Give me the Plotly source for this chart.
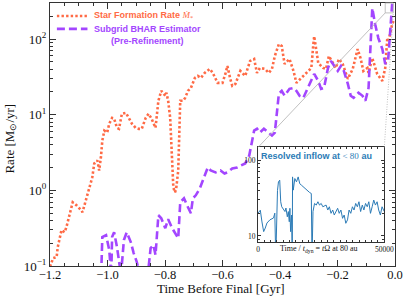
import numpy as np
import plotly.graph_objects as go

# ---------------- data ----------------
sfr_t = [-1.200, -1.189, -1.177, -1.173, -1.160, -1.149, -1.143, -1.131, -1.121, -1.108,
         -1.097, -1.091, -1.087, -1.074, -1.063, -1.053, -1.046, -1.035, -1.029, -1.023,
         -1.018, -1.011, -1.001, -0.994, -0.984, -0.977, -0.967, -0.960, -0.950, -0.936,
         -0.926, -0.915, -0.902, -0.891, -0.881, -0.867, -0.857, -0.847, -0.833, -0.823,
         -0.813, -0.799, -0.795, -0.789, -0.782, -0.778, -0.771, -0.765, -0.761, -0.754,
         -0.751, -0.747, -0.737, -0.730, -0.720, -0.710, -0.696, -0.686, -0.675, -0.662,
         -0.644, -0.634, -0.617, -0.600, -0.590, -0.583, -0.573, -0.566, -0.555, -0.538,
         -0.521, -0.504, -0.490, -0.480, -0.470, -0.452, -0.439, -0.428, -0.418, -0.404,
         -0.394, -0.384, -0.367, -0.353, -0.343, -0.319, -0.302, -0.291, -0.284, -0.281,
         -0.267, -0.250, -0.240, -0.230, -0.216, -0.206, -0.195, -0.182, -0.164, -0.147,
         -0.130, -0.120, -0.110, -0.096, -0.092, -0.079, -0.062, -0.051, -0.044, -0.034,
         -0.027, -0.024, -0.017, -0.010, -0.003]
sfr_rate = [0.098, 0.127, 0.131, 0.178, 0.298, 0.28, 0.326, 0.50, 0.695, 0.635,
            0.58, 0.545, 0.514, 0.785, 1.09, 1.48, 2.27, 2.48, 1.83, 2.72,
            4.55, 6.16, 5.8, 7.6, 9.1, 8.9, 6.7, 6.5, 10.3, 10.6,
            9.1, 7.6, 6.7, 6.5, 6.5, 9.1, 10.3, 8.9, 6.7, 15.3,
            20.7, 17.8, 19.5, 15.3, 9.1, 3.36, 1.09, 0.94, 1.06, 1.83,
            4.55, 15.3, 15.3, 16.7, 20.7, 22.6, 30.7, 32.6, 30.7, 35.7,
            40.3, 35.7, 26.4, 26.4, 34.6, 44.2, 29.8, 24.1, 25.6, 37.9,
            32.6, 51.4, 54.6, 35.7, 41.5, 40.3, 35.7, 40.3, 59.7, 85.9,
            80.9, 46.9, 54.6, 37.9, 26.4, 32.6, 37.9, 41.5, 85.9, 109,
            48.3, 41.5, 40.3, 59.7, 48.3, 41.5, 54.6, 46.9, 29.8, 40.3,
            73.9, 56.2, 37.9, 41.5, 35.7, 56.2, 34.6, 29.8, 28.0, 41.5,
            100, 94, 116, 157, 183]

bhar_t = [-1.022, -1.018, -1.005, -0.994, -0.987, -0.984, -0.977, -0.967, -0.953, -0.943,
          -0.933, -0.919, -0.909, -0.898, -0.888, -0.871, -0.857, -0.850, -0.840, -0.833,
          -0.823, -0.813, -0.799, -0.789, -0.775, -0.754, -0.747, -0.734, -0.720, -0.710,
          -0.703, -0.693, -0.679, -0.669, -0.651, -0.641, -0.624, -0.607, -0.593, -0.583,
          -0.566, -0.549, -0.521, -0.507, -0.497, -0.490, -0.480, -0.470, -0.456, -0.439,
          -0.428, -0.418, -0.404, -0.394, -0.384, -0.367, -0.353, -0.343, -0.332, -0.319,
          -0.308, -0.291, -0.281, -0.267, -0.257, -0.247, -0.233, -0.223, -0.212, -0.199,
          -0.188, -0.178, -0.164, -0.154, -0.144, -0.127, -0.113, -0.103, -0.092, -0.085,
          -0.079, -0.069, -0.058, -0.044, -0.034, -0.024, -0.017, -0.010, -0.003]
bhar_rate = [0.076, 0.241, 0.256, 0.163, 0.076, 0.241, 0.28, 0.178, 0.076, 0.22,
             0.28, 0.207, 0.148, 0.113, 0.076, 0.056, 0.097, 0.172, 0.189, 0.14,
             0.469, 0.428, 0.316, 0.415, 0.316, 0.233, 0.695, 0.785, 0.597, 0.498,
             0.785, 0.86, 1.06, 1.35, 2.01, 1.83, 1.73, 1.83, 1.67, 1.73,
             1.95, 2.01, 2.27, 2.89, 4.55, 6.16, 6.54, 5.8, 6.54, 5.8,
             5.3, 5.8, 18.9, 20.7, 17.8, 22.0, 22.6, 20.7, 17.8, 16.7,
             20.7, 28.0, 34.6, 28.0, 22.0, 22.6, 41.5, 51.4, 44.2, 37.9,
             44.2, 37.9, 25.6, 17.8, 16.7, 19.5, 17.8, 15.3, 22.6, 94,
             256, 157, 103, 73.9, 46.9, 51.4, 140, 289, 370]

inflow_time = [0, 900, 1560, 2230, 2850, 3520, 4690, 6130, 6640, 7030,
               7700, 8090, 8590, 8980, 9380, 10040, 10660, 11050, 11600, 11990,
               12380, 12620, 12890, 13280, 13550, 13670, 13950, 14570, 15230, 15900,
               16520, 17190, 17850, 18480, 19140, 19800, 20430, 21090, 21370, 21760,
               22380, 23050, 23710, 24340, 25000, 25660, 26950, 27620, 28240, 28910,
               29570, 30190, 30860, 31520, 32150, 32810, 33470, 34100, 34760, 35430,
               36050, 36720, 37380, 38010, 38670, 39330, 39960, 40620, 41290, 41910,
               42580, 43240, 43870, 44530, 45190, 45820, 46480, 47150, 47770, 48440,
               49100, 49720, 50000]
inflow_rate = [20, 21.9, 15.3, 11.4, 12.7, 14.8, 16.3, 17.3, 20, 5,
               40, 51.8, 54.6, 28.3, 24.3, 22, 21, 23.4, 17.9, 21,
               15.4, 23.2, 11.4, 18.9, 5, 60.3, 40.3, 57.4, 51.8, 60.3,
               49, 46.9, 44.5, 42.4, 40.3, 38.2, 37.5, 36.4, 5, 21,
               26.9, 25.6, 28.3, 25.6, 26.9, 24.3, 25.6, 22, 24.3, 19.9,
               22, 18.9, 21, 23.2, 19.9, 22, 17.1, 18.9, 14.7, 16.3,
               22, 19.9, 24.3, 22, 26.9, 24.3, 28.3, 21, 25.6, 22,
               26.9, 24.3, 28.3, 19.9, 24.3, 29.8, 25.6, 28.3, 22, 18.9,
               24.3, 22, 21]

main_xticks = [-1.2, -1.0, -0.8, -0.6, -0.4, -0.2, 0.0]
main_xticklabels = ["\u22121.2", "\u22121.0", "\u22120.8", "\u22120.6", "\u22120.4", "\u22120.2", "0.0"]
main_yticks = [0.1, 1, 10, 100]
main_yticklabels = ["10<sup>\u22121</sup>", "10<sup>0</sup>", "10<sup>1</sup>", "10<sup>2</sup>"]
inset_xticks = [0, 50000]
inset_xticklabels = ["0", "50000"]
inset_yticks = [10, 100]
inset_yticklabels = ["10", "100"]

# ---------------- layout constants ----------------
W, H = 407, 300
ML, MR, MT, MB = 50, 7, 2, 34
XR = [-1.2, 0.0]
YR = [-1.0, np.log10(300)]
INSET_X = [0.603, 0.969]
INSET_Y = [0.091, 0.451]
INSET_YR = [np.log10(8.3), np.log10(148)]
ZOOM_T = [-0.034, -0.006]
ZOOM_R = [222, 300]

SFR_C = "#ff6a45"
BH_C = "#a346ff"
IN_C = "#2c7bb6"
SERIF = "Liberation Serif"
SANS = "Liberation Sans"

pw = W - ML - MR
ph = H - MT - MB


def fx(t):
    return (t - XR[0]) / (XR[1] - XR[0])


def fy(v):
    return (np.log10(v) - YR[0]) / (YR[1] - YR[0])


def pxp(px):
    return (px - ML) / pw


def pyp(py):
    return (H - MB - py) / ph


fig = go.Figure()
fig.add_trace(go.Scatter(x=sfr_t, y=sfr_rate, mode="lines",
                         line=dict(color=SFR_C, width=2.6, dash="2.4px,2.2px"),
                         xaxis="x", yaxis="y", showlegend=False))
fig.add_trace(go.Scatter(x=bhar_t, y=bhar_rate, mode="lines",
                         line=dict(color=BH_C, width=2.6, dash="8px,4px"),
                         xaxis="x", yaxis="y", showlegend=False))
fig.add_trace(go.Scatter(x=inflow_time, y=inflow_rate, mode="lines",
                         line=dict(color=IN_C, width=1),
                         xaxis="x2", yaxis="y2", showlegend=False))

axcommon = dict(showgrid=False, zeroline=False, showline=True, linecolor="#333",
                linewidth=1, ticks="inside", mirror="ticks", tickcolor="#333")

fig.update_layout(
    width=W, height=H,
    margin=dict(l=ML, r=MR, t=MT, b=MB),
    paper_bgcolor="white", plot_bgcolor="white",
    xaxis=dict(domain=[0, 1], range=XR, tickvals=main_xticks, ticktext=main_xticklabels,
               ticklen=6, tickwidth=1, tickfont=dict(family=SERIF, size=12.5, color="#111"),
               minor=dict(dtick=0.05, tick0=0, ticks="inside", ticklen=3, tickcolor="#333"),
               anchor="y", ticklabelstandoff=-3, **axcommon),
    yaxis=dict(domain=[0, 1], type="log", range=YR, tickvals=main_yticks, ticktext=main_yticklabels,
               ticklen=6, tickwidth=1, tickfont=dict(family=SERIF, size=13, color="#111"),
               minor=dict(tickvals=[m * 10.0 ** e for e in range(-1, 3) for m in range(2, 10)],
                          ticks="inside", ticklen=3, tickcolor="#333"),
               anchor="x", **axcommon),
    xaxis2=dict(domain=INSET_X, range=[0, 50000], tickvals=inset_xticks, ticktext=inset_xticklabels,
                ticklen=3, tickfont=dict(family=SERIF, size=7.5, color="#111"),
                minor=dict(dtick=2500, tick0=0, ticks="inside", ticklen=2, tickcolor="#333"),
                anchor="y2", ticklabelstandoff=0, **axcommon),
    yaxis2=dict(domain=INSET_Y, type="log", range=INSET_YR, tickvals=inset_yticks,
                ticktext=inset_yticklabels,
                ticklen=3, tickfont=dict(family=SERIF, size=7.5, color="#111"),
                minor=dict(tickvals=[m * 10.0 ** e for e in range(0, 3) for m in range(2, 10)],
                           ticks="inside", ticklen=2, tickcolor="#333"),
                anchor="x2", ticklabelstandoff=0, **axcommon),
)

shapes = []
# zoom box and connector lines
bx0, bx1 = fx(ZOOM_T[0]), fx(ZOOM_T[1])
by0, by1 = fy(ZOOM_R[0]), fy(ZOOM_R[1])
shapes.append(dict(type="rect", xref="paper", yref="paper", x0=bx0, x1=bx1, y0=by0, y1=by1,
                   line=dict(color="#b0b0b0", width=0.8)))
shapes.append(dict(type="line", xref="paper", yref="paper", x0=INSET_X[0], y0=INSET_Y[1],
                   x1=bx0, y1=by0, line=dict(color="#b0b0b0", width=0.8)))
shapes.append(dict(type="line", xref="paper", yref="paper", x0=INSET_X[1], y0=INSET_Y[1],
                   x1=bx1, y1=by0, line=dict(color="#b0b0b0", width=0.8, dash="1px,1.5px")))
# legend samples
shapes.append(dict(type="line", xref="paper", yref="paper", x0=pxp(57), x1=pxp(88),
                   y0=pyp(15), y1=pyp(15), line=dict(color=SFR_C, width=2.6, dash="2.4px,2.2px")))
shapes.append(dict(type="line", xref="paper", yref="paper", x0=pxp(57), x1=pxp(88),
                   y0=pyp(28), y1=pyp(28), line=dict(color=BH_C, width=2.6, dash="8px,4px")))
fig.update_layout(shapes=shapes)

ann = []
ann.append(dict(xref="paper", yref="paper", x=pxp(93), y=pyp(15), xanchor="left", yanchor="middle",
                text="<b>Star Formation Rate</b> <span style='font-family:Liberation Serif'><i>\u1e40</i><sub>*</sub></span>",
                showarrow=False, font=dict(family=SANS, size=9, color=SFR_C)))
ann.append(dict(xref="paper", yref="paper", x=pxp(93), y=pyp(34.5), xanchor="left", yanchor="middle",
                text="<b>Subgrid BHAR Estimator</b><br><b>(Pre-Refinement)</b>", align="center",
                showarrow=False, font=dict(family=SANS, size=9, color=BH_C)))
ann.append(dict(xref="paper", yref="paper", x=pxp(262), y=pyp(156), xanchor="left", yanchor="middle",
                text="<b>Resolved inflow at</b> <span style='font-family:Liberation Serif'>&lt; 80</span> <b>au</b>",
                showarrow=False, font=dict(family=SANS, size=9, color=IN_C)))
ann.append(dict(xref="paper", yref="paper", x=pxp(322), y=pyp(249), xanchor="center", yanchor="middle",
                text="Time / <i>t</i><sub>dyn</sub> = <i>t</i>\u03a9 at 80 au",
                showarrow=False, font=dict(family=SERIF, size=8, color="#111")))
ann.append(dict(xref="paper", yref="paper", x=pxp(223), y=pyp(289), xanchor="center", yanchor="middle",
                text="Time Before Final [Gyr]",
                showarrow=False, font=dict(family=SERIF, size=13, color="#111")))
ann.append(dict(xref="paper", yref="paper", x=pxp(10), y=pyp(138.5), xanchor="center", yanchor="middle",
                text="Rate [M<sub>\u2299</sub>/yr]", textangle=-90,
                showarrow=False, font=dict(family=SERIF, size=13, color="#111")))
fig.update_layout(annotations=ann)

fig.write_html("out.html", config={"displayModeBar": False},
               post_script="document.body.style.margin='0';document.body.style.overflow='hidden';")
